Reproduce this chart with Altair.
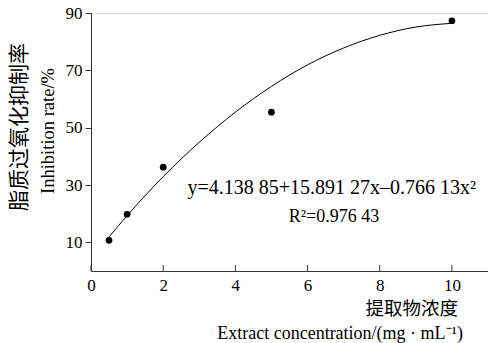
import altair as alt
import pandas as pd

# measured points
conc = [0.5, 1, 2, 5, 10]
rate = [10.7, 19.8, 36.2, 55.4, 87.3]

# fitted curve as drawn in the figure
curve_x = [0.5, 1, 2, 3, 4, 5, 6, 7, 8, 9, 10]
curve_y = [11.9, 19.3, 32.9, 44.9, 55.4, 64.4, 71.9, 77.8, 82.2, 85.1, 86.4]

x_ticks = [0, 2, 4, 6, 8, 10]
y_ticks = [10, 30, 50, 70, 90]

y_title_cn = "脂质过氧化抑制率"
y_title_en = "Inhibition rate/%"
x_title_cn = "提取物浓度"
x_title_en = "Extract concentration/(mg · mL⁻¹)"
eq_text = "y=4.138 85+15.891 27x–0.766 13x²"
r2_text = "R²=0.976 43"

df = pd.DataFrame({"x": conc, "y": rate})
cdf = pd.DataFrame({"x": curve_x, "y": curve_y})
serif = "Liberation Serif"
cjk = "Noto Sans CJK SC"

W, H = 397, 258
xs = alt.Scale(domain=[0, 11], nice=False)
ys = alt.Scale(domain=[0, 90], nice=False)

xaxis = alt.Axis(values=x_ticks, title=None, grid=False, ticks=False,
                 labelFont=serif, labelFontSize=17, labelColor="black",
                 labelPadding=6, domainColor="#333", labelFlush=False)
yaxis = alt.Axis(values=y_ticks, title=None, grid=False, tickSize=6,
                 tickColor="#333", labelFont=serif, labelFontSize=17,
                 labelColor="black", labelPadding=3, domainColor="#333")

points = alt.Chart(df).mark_circle(size=45, color="black", opacity=1).encode(
    x=alt.X("x:Q", scale=xs, axis=xaxis),
    y=alt.Y("y:Q", scale=ys, axis=yaxis),
)

fit = alt.Chart(cdf).mark_line(color="black", strokeWidth=1, interpolate="monotone").encode(
    x=alt.X("x:Q", scale=xs), y=alt.Y("y:Q", scale=ys)
)

tick_df = pd.DataFrame({"t": x_ticks})
xticks = alt.Chart(tick_df).mark_rule(color="#333").encode(
    x=alt.X("t:Q", scale=xs), y=alt.value(H), y2=alt.value(H - 6)
)

def txt(s, x, y, font, size, align="center", angle=0):
    return alt.Chart(pd.DataFrame({"s": [s]})).mark_text(
        font=font, fontSize=size, align=align, baseline="middle",
        angle=angle, color="black"
    ).encode(text="s:N", x=alt.value(x), y=alt.value(y))

labels = [
    txt(y_title_cn, -71, 114, cjk, 21, angle=270),
    txt(y_title_en, -43, 118, serif, 18.5, angle=270),
    txt(x_title_cn, 367, 296, cjk, 18.5, align="right"),
    txt(x_title_en, 372, 321, serif, 18, align="right"),
    txt(eq_text, 385, 175, serif, 20, align="right"),
    txt(r2_text, 243, 204, serif, 18),
]

chart = alt.layer(fit, points, xticks, *labels).properties(
    width=W, height=H,
    autosize=alt.AutoSizeParams(type="none"),
    padding={"left": 91, "top": 13, "right": 0, "bottom": 72},
).configure_view(stroke=None).configure(background="white")

chart.save("out.html", embed_options={"renderer": "svg", "actions": False})
